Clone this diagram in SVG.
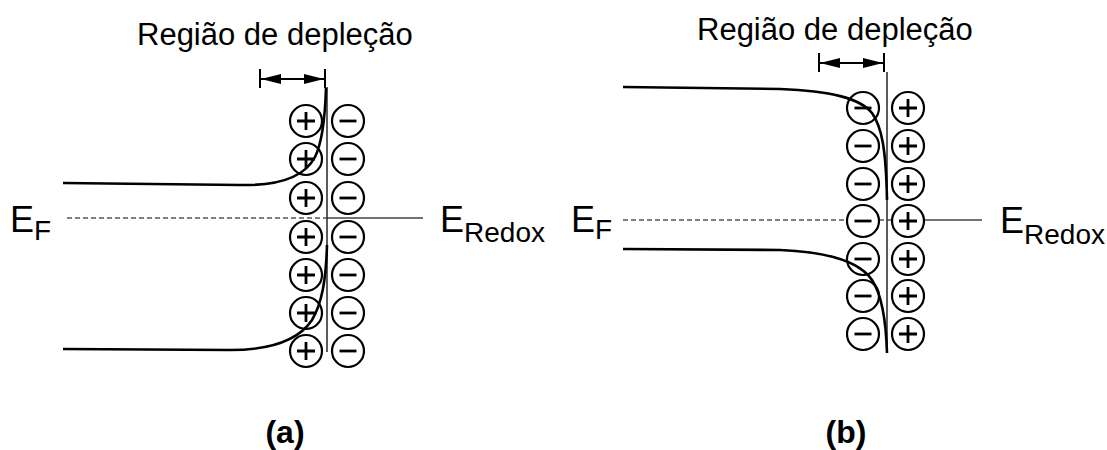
<svg xmlns="http://www.w3.org/2000/svg" xmlns:xlink="http://www.w3.org/1999/xlink" width="1107" height="450" viewBox="0 0 1107 450">
  <style>
    .title { font-family: "Liberation Sans", Arial, sans-serif; font-size: 31px; fill: #000; }
    .eBig { font-family: "Liberation Sans", Arial, sans-serif; font-size: 36px; fill: #000; }
    .eSub { font-family: "Liberation Sans", Arial, sans-serif; font-size: 28px; fill: #000; }
    .lbl { font-family: "Liberation Sans", Arial, sans-serif; font-size: 32px; font-weight: bold; fill: #000; }
    .band { fill: none; stroke: #000; stroke-width: 2.6; }
    .level { fill: none; stroke: #444; stroke-width: 1.3; }
    .dash { fill: none; stroke: #555; stroke-width: 1.3; stroke-dasharray: 5 3; }
    .iface { fill: none; stroke: #333; stroke-width: 1.6; }
    .tick { fill: none; stroke: #000; stroke-width: 2; }
    .dim { fill: none; stroke: #000; stroke-width: 2; }
    .ring { fill: #fff; stroke: #000; stroke-width: 2.2; }
    .sign { fill: none; stroke: #000; stroke-width: 2.8; }
  </style>
  <defs>
    <marker id="ah" viewBox="0 0 20 10" refX="20" refY="5" markerWidth="20" markerHeight="10" markerUnits="userSpaceOnUse" orient="auto-start-reverse">
      <path d="M0,0 L20,5 L0,10 Z" fill="#000"/>
    </marker>
    <g id="pos">
      <circle class="ring" cx="0" cy="0" r="16"/>
      <path class="sign" d="M-9,0 H9 M0,-9 V9"/>
    </g>
    <g id="neg">
      <circle class="ring" cx="0" cy="0" r="16"/>
      <path class="sign" d="M-8.5,0 H8.5"/>
    </g>
  </defs>

  <!-- Panel (a) -->
  <g id="panel-a">
    <text class="title" x="137" y="45">Região de depleção</text>
    <g id="a-level">
      <path class="dash" d="M67,218 H327"/>
      <path class="level" d="M327,218 H423"/>
    </g>
    <g id="a-EF"><text x="10" y="232"><tspan class="eBig">E</tspan><tspan class="eSub" dy="8">F</tspan></text></g>
    <g id="a-ERedox"><text x="440" y="232"><tspan class="eBig">E</tspan><tspan class="eSub" dy="10">Redox</tspan></text></g>
    <g id="a-charges">
      <use xlink:href="#pos" x="306" y="121"/><use xlink:href="#neg" x="348" y="121"/>
      <use xlink:href="#pos" x="306" y="159"/><use xlink:href="#neg" x="348" y="159"/>
      <use xlink:href="#pos" x="306" y="198"/><use xlink:href="#neg" x="348" y="198"/>
      <use xlink:href="#pos" x="306" y="237"/><use xlink:href="#neg" x="348" y="237"/>
      <use xlink:href="#pos" x="306" y="275"/><use xlink:href="#neg" x="348" y="275"/>
      <use xlink:href="#pos" x="306" y="313"/><use xlink:href="#neg" x="348" y="313"/>
      <use xlink:href="#pos" x="306" y="351"/><use xlink:href="#neg" x="348" y="351"/>
    </g>
    <g id="a-interface"><path class="iface" d="M327,87 V352"/></g>
    <g id="a-bands">
      <path class="band" d="M63,183 L240,185 C280,186 305,176 315,157 C322,143 325,120 326,88"/>
      <path class="band" d="M63,349 L230,350 C275,350 300,338 312,320 C322,303 326,280 327,245"/>
    </g>
    <g id="a-width">
      <path class="tick" d="M260,69 V88 M325,69 V88"/>
      <path class="dim" d="M261,79 H324" marker-start="url(#ah)" marker-end="url(#ah)"/>
    </g>
    <text class="lbl" x="285" y="443" text-anchor="middle">(a)</text>
  </g>

  <!-- Panel (b) -->
  <g id="panel-b">
    <text class="title" x="697" y="40">Região de depleção</text>
    <g id="b-level">
      <path class="dash" d="M623,220 H887"/>
      <path class="level" d="M887,220 H982"/>
    </g>
    <g id="b-EF"><text x="571" y="232"><tspan class="eBig">E</tspan><tspan class="eSub" dy="7">F</tspan></text></g>
    <g id="b-ERedox"><text x="1000" y="233"><tspan class="eBig">E</tspan><tspan class="eSub" dy="11">Redox</tspan></text></g>
    <g id="b-charges">
      <use xlink:href="#neg" x="863" y="108"/><use xlink:href="#pos" x="908" y="108"/>
      <use xlink:href="#neg" x="863" y="146"/><use xlink:href="#pos" x="908" y="146"/>
      <use xlink:href="#neg" x="863" y="184"/><use xlink:href="#pos" x="908" y="184"/>
      <use xlink:href="#neg" x="863" y="221"/><use xlink:href="#pos" x="908" y="221"/>
      <use xlink:href="#neg" x="863" y="259"/><use xlink:href="#pos" x="908" y="259"/>
      <use xlink:href="#neg" x="863" y="296"/><use xlink:href="#pos" x="908" y="296"/>
      <use xlink:href="#neg" x="863" y="334"/><use xlink:href="#pos" x="908" y="334"/>
    </g>
    <g id="b-interface"><path class="iface" d="M887,72 V353"/></g>
    <g id="b-bands">
      <path class="band" d="M623,87 L780,89 C830,91 860,98 872,113 C882,127 886,150 887,200"/>
      <path class="band" d="M623,249 L780,250 C830,252 860,262 872,280 C882,295 886,320 887,353"/>
    </g>
    <g id="b-width">
      <path class="tick" d="M819,53 V72 M884,53 V72"/>
      <path class="dim" d="M820,63 H883" marker-start="url(#ah)" marker-end="url(#ah)"/>
    </g>
    <text class="lbl" x="846" y="443" text-anchor="middle">(b)</text>
  </g>
</svg>
